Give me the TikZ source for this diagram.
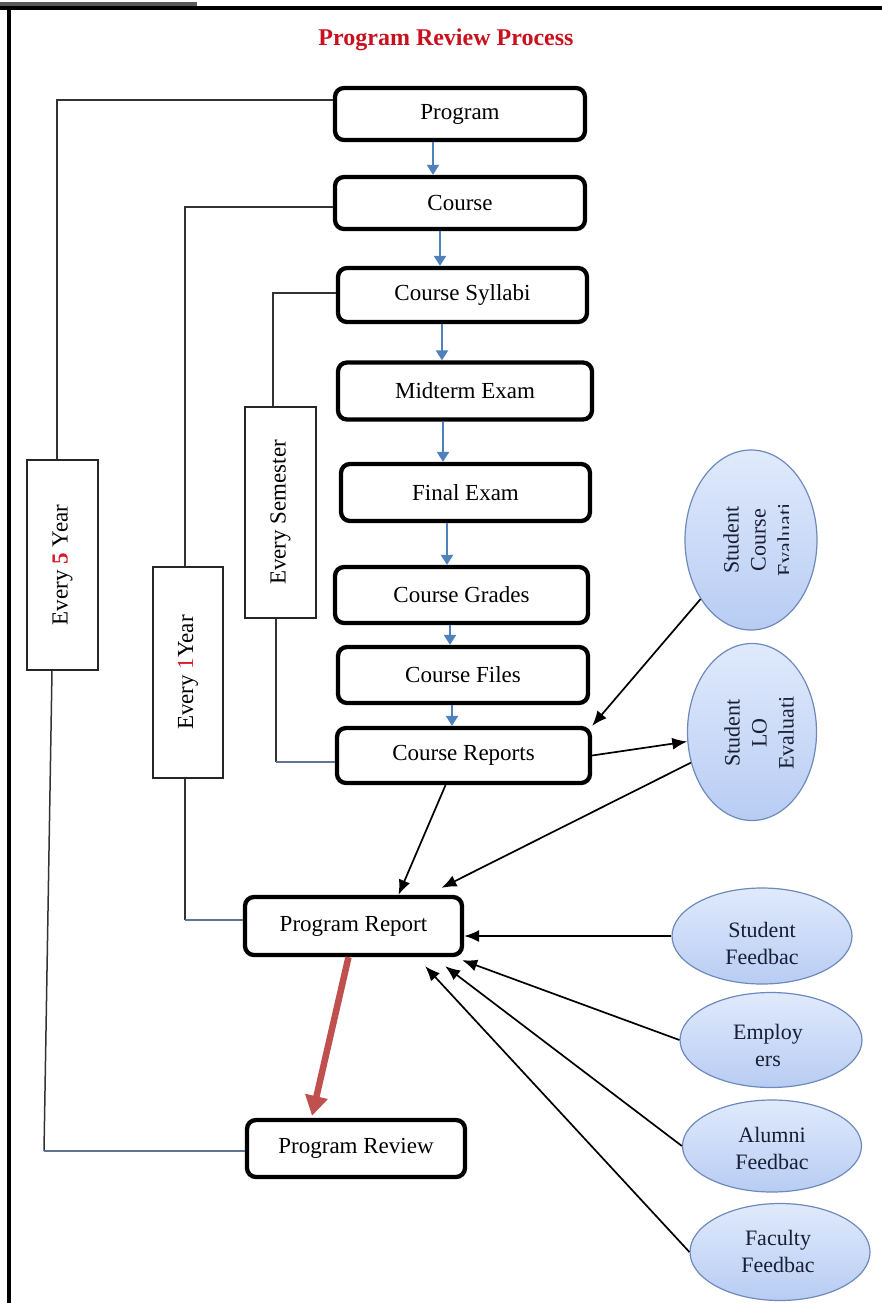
\documentclass[tikz,border=0pt]{standalone}
\usepackage{fontspec}
\setmainfont{Liberation Serif}
\usetikzlibrary{arrows.meta,shapes.geometric,calc}

\definecolor{titlered}{RGB}{200,16,30}
\definecolor{numred}{RGB}{210,30,40}
\definecolor{flowblue}{RGB}{79,129,189}
\definecolor{reviewred}{RGB}{192,80,77}
\definecolor{ovaltop}{RGB}{224,234,252}
\definecolor{ovalbot}{RGB}{184,204,243}
\definecolor{ovalline}{RGB}{110,138,188}
\definecolor{ovaltext}{RGB}{24,30,52}
\definecolor{linkblue}{RGB}{96,114,150}

\newcommand\boxfont{\fontsize{23}{27}\selectfont}
\newcommand\ovalfont{\fontsize{22}{27}\selectfont}

\tikzset{
  box/.style={draw=black, line width=4.3pt, rounded corners=9pt, fill=white,
              inner sep=0pt, font=\boxfont},
  tag/.style={draw=black!85, line width=1.7pt, fill=white, rotate=90,
              inner sep=0pt, font=\boxfont},
  oval/.style={ellipse, draw=ovalline, line width=1.2pt, top color=ovaltop,
               bottom color=ovalbot, inner sep=0pt},
  ovaltxt/.style={align=center, font=\ovalfont, text=ovaltext, inner sep=0pt},
  flow/.style={draw=flowblue, line width=2.2pt, -{Triangle[length=10pt,width=12pt]}},
  feed/.style={draw=black, line width=1.7pt, -{Latex[length=15pt,width=12pt]}},
  link/.style={draw=black!80, line width=1.5pt},
  linklow/.style={draw=linkblue, line width=1.5pt},
  bigarrow/.style={draw=reviewred, line width=6.5pt,
                   -{Triangle[length=20pt,width=22pt]}},
}

\begin{document}
\begin{tikzpicture}[x=1pt,y=-1pt]
\useasboundingbox (0,0) rectangle (882,1303);

% page frame
\draw[line width=4pt, black!65] (0,4) -- (197,4);
\draw[line width=4pt, black] (0,8) -- (882,8);
\draw[line width=3.5pt, black] (9,8) -- (9,1303);

% title
\node[font=\bfseries\fontsize{24}{28}\selectfont, text=titlered] (title)
  at (446,40) {Program Review Process};

% main chain
\node[box, minimum width=250pt, minimum height=52pt] (prog)    at (460,114)   {Program};
\node[box, minimum width=250pt, minimum height=52pt] (course)  at (460,203)   {Course};
\node[box, minimum width=249pt, minimum height=54pt] (syl)     at (462.5,295) {Course Syllabi};
\node[box, minimum width=254pt, minimum height=57pt] (mid)     at (465,391)   {Midterm Exam};
\node[box, minimum width=249pt, minimum height=57pt] (final)   at (465.5,492.5) {Final Exam};
\node[box, minimum width=253pt, minimum height=56pt] (grades)  at (461.5,595) {Course Grades};
\node[box, minimum width=250pt, minimum height=56pt] (files)   at (463,675)   {Course Files};
\node[box, minimum width=253pt, minimum height=55pt] (reports) at (463.5,755.5) {Course Reports};
\node[box, minimum width=217pt, minimum height=58pt] (preport) at (353.5,926) {Program Report};
\node[box, minimum width=218pt, minimum height=57pt] (preview) at (356,1148.5) {Program Review};

% review cycle tags
\node[tag, minimum width=210pt, minimum height=71pt] (e5)   at (62.5,565)
  {Every {\color{numred}\bfseries 5} Year};
\node[tag, minimum width=211pt, minimum height=70pt] (e1)   at (188,672.5)
  {Every {\color{numred}1}Year};
\node[tag, minimum width=211pt, minimum height=71pt] (esem) at (280.5,512.5)
  {Every Semester};

% input sources
\node[oval, minimum width=132pt, minimum height=180pt,
  path picture={
    \clip (path picture bounding box.south west) rectangle
          ($(path picture bounding box.north east)+(-29,0)$);
    \node[ovaltxt, rotate=90] at ($(path picture bounding box.center)+(7,0)$)
      {Student\\Course\\Evaluati};}] (sce) at (751,540) {};
\node[oval, minimum width=129pt, minimum height=177pt,
  path picture={
    \node[ovaltxt, rotate=90] at ($(path picture bounding box.center)+(7,1)$)
      {Student\\LO\\Evaluati};}] (lo) at (752,732) {};
\node[oval, minimum width=180pt, minimum height=96pt,
  path picture={
    \clip (path picture bounding box.north west) rectangle
          ($(path picture bounding box.south east)+(0,-20)$);
    \node[ovaltxt] at ($(path picture bounding box.center)+(0,7)$)
      {Student\\Feedbac};}] (sf) at (762,936) {};
\node[oval, minimum width=182pt, minimum height=95pt,
  path picture={
    \node[ovaltxt] at ($(path picture bounding box.center)+(-3,5)$)
      {Employ\\ers};}] (emp) at (771,1040) {};
\node[oval, minimum width=179pt, minimum height=92pt,
  path picture={
    \node[ovaltxt] at ($(path picture bounding box.center)+(0,2)$)
      {Alumni\\Feedbac};}] (alum) at (772,1146) {};
\node[oval, minimum width=180pt, minimum height=97pt,
  path picture={
    \node[ovaltxt] at ($(path picture bounding box.center)+(-2,-1)$)
      {Faculty\\Feedbac};}] (fac) at (780,1252) {};

% flow of the chain
\draw[flow] ($(prog.south)+(-27,0)$)     -- ($(course.north)+(-27,0)$);
\draw[flow] ($(course.south)+(-20,0)$)   -- ($(syl.north)+(-22.5,0)$);
\draw[flow] ($(syl.south)+(-20.5,0)$)    -- ($(mid.north)+(-23,0)$);
\draw[flow] ($(mid.south)+(-22,0)$)      -- ($(final.north)+(-22.5,0)$);
\draw[flow] ($(final.south)+(-18.5,0)$)  -- ($(grades.north)+(-14.5,0)$);
\draw[flow] ($(grades.south)+(-11.5,0)$) -- ($(files.north)+(-13,0)$);
\draw[flow] ($(files.south)+(-11,0)$)    -- ($(reports.north)+(-11.5,0)$);

% cycle brackets
\coordinate (k5a) at (57,100);
\coordinate (k5b) at (44,1151);
\draw[link] ($(e5.east)+(-5.5,0)$) -- (k5a) -- (prog.west |- k5a);
\draw[link] ($(e5.west)+(-10.5,0)$) -- (k5b);
\draw[linklow] (k5b) -- (preview.west |- k5b);

\coordinate (k1a) at (185,207);
\coordinate (k1b) at (185,920);
\draw[link] ($(e1.east)+(-3,0)$) -- (k1a) -- (course.west |- k1a);
\draw[link] ($(e1.west)+(-3,0)$) -- (k1b);
\draw[linklow] (k1b) -- (preport.west |- k1b);

\coordinate (ksa) at (273,293);
\coordinate (ksb) at (276,762);
\draw[link] ($(esem.east)+(-7.5,0)$) -- (ksa) -- (syl.west |- ksa);
\draw[link] ($(esem.west)+(-4.5,0)$) -- (ksb);
\draw[linklow] (ksb) -- (reports.west |- ksb);

% feedback arrows
\draw[feed] (sce) -- (reports.north east);
\draw[feed] (reports.east) -- (lo);
\draw[feed] ($(reports.south)+(-18,0)$) -- ($(preport.north)+(45,0)$);
\draw[feed] (lo) -- ($(preport.north)+(88,-7)$);
\draw[feed] (sf.west) -- ($(preport.east)+(0,10)$);
\draw[feed] (emp.west) -- ($(preport.south east)+(-2,3)$);
\draw[feed] (alum.west) -- ($(preport.south east)+(-19,9)$);
\draw[feed] (fac.west) -- ($(preport.south east)+(-39,9)$);

% report leads to review
\draw[bigarrow] ($(preport.south)+(-5,0)$) -- ($(preview.north)+(-44,-2)$);
\end{tikzpicture}
\end{document}
